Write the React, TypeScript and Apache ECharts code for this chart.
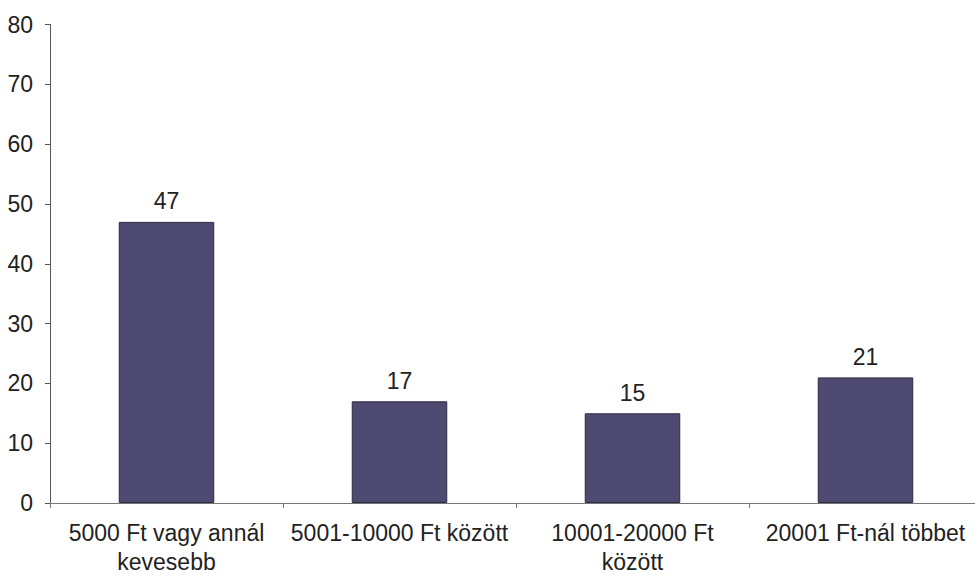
import React, { useEffect, useRef } from "react";
import * as echarts from "echarts";

const categories = [
  "5000 Ft vagy annál\nkevesebb",
  "5001-10000 Ft között",
  "10001-20000 Ft\nközött",
  "20001 Ft-nál többet",
];
const values = [47, 17, 15, 21];
const yTicks = { min: 0, max: 80, interval: 10 };

export default function App() {
  const ref = useRef<HTMLDivElement>(null);
  useEffect(() => {
    if (!ref.current) return;
    const chart = echarts.init(ref.current, null, { renderer: "svg" });
    const font = "'Liberation Sans', Arial, sans-serif";
    chart.setOption({
      animation: false,
      backgroundColor: "#ffffff",
      grid: { left: 50, right: 0, top: 24.5, bottom: 67.5, containLabel: false },
      xAxis: {
        type: "category",
        data: categories,
        axisLine: { show: true, lineStyle: { color: "#777", width: 1 } },
        axisTick: { show: true, alignWithLabel: false, length: 5, lineStyle: { color: "#777" } },
        axisLabel: {
          color: "#222",
          fontFamily: font,
          fontSize: 23,
          lineHeight: 29,
          margin: 15,
          interval: 0,
        },
        splitLine: { show: false },
      },
      yAxis: {
        type: "value",
        min: yTicks.min,
        max: yTicks.max,
        interval: yTicks.interval,
        axisLine: { show: true, lineStyle: { color: "#555", width: 1 } },
        axisTick: { show: true, length: 5, lineStyle: { color: "#555" } },
        axisLabel: { color: "#222", fontFamily: font, fontSize: 23, margin: 17 },
        splitLine: { show: false },
      },
      series: [
        {
          type: "bar",
          data: values,
          barWidth: "41%",
          itemStyle: { color: "#4f4a72", borderColor: "#2e2c40", borderWidth: 1 },
          label: {
            show: true,
            position: "top",
            distance: 9,
            color: "#222",
            fontFamily: font,
            fontSize: 23,
          },
        },
      ],
    });
    return () => chart.dispose();
  }, []);
  return (
    <div style={{ position: "fixed", left: 0, top: 0, width: 975, height: 576, overflow: "hidden" }}>
      <div ref={ref} style={{ width: 982, height: 576 }} />
    </div>
  );
}
